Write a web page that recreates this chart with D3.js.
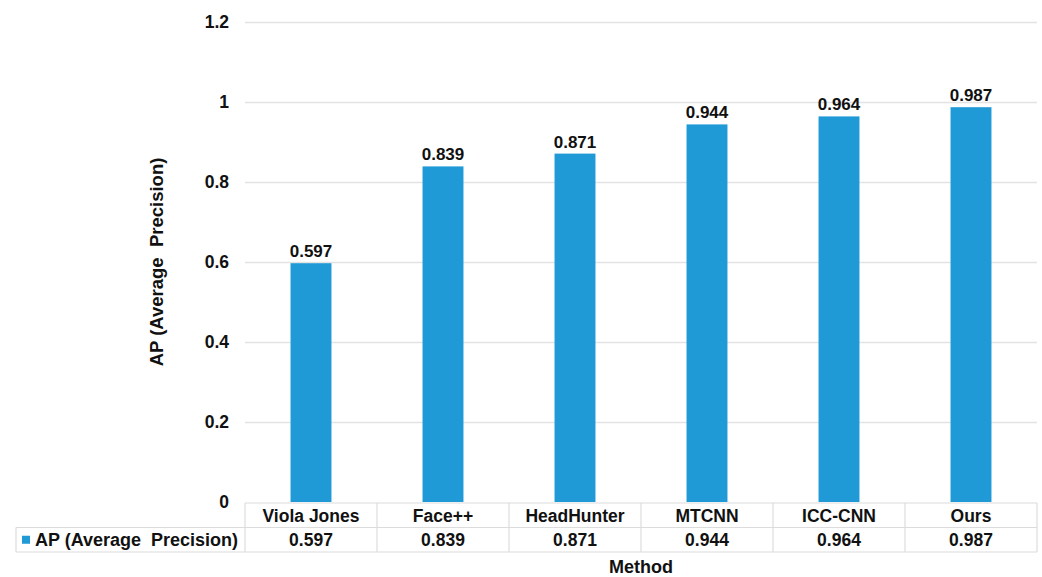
<!DOCTYPE html>
<html>
<head>
<meta charset="utf-8">
<script src="https://cdn.jsdelivr.net/npm/d3@7"></script>
<style>
  body { margin: 0; background: #fff; }
  svg text { font-family: "Liberation Sans", Arial, sans-serif; font-weight: bold; fill: #111; }
</style>
</head>
<body>
<svg id="chart" width="1042" height="577"></svg>
<script>
const methods = ["Viola Jones", "Face++", "HeadHunter", "MTCNN", "ICC-CNN", "Ours"];
const apValues = [0.597, 0.839, 0.871, 0.944, 0.964, 0.987];
const yTicks = [0, 0.2, 0.4, 0.6, 0.8, 1, 1.2];
const seriesName = "AP (Average  Precision)";

const svg = d3.select("#chart");
const margin = { top: 22, left: 245, right: 5, bottom: 75 };
const width = 1042 - margin.left - margin.right;
const height = 577 - margin.top - margin.bottom;
const barColor = "#1f9ad6";
const gridColor = "#e3e3e3";

const g = svg.append("g").attr("transform", `translate(${margin.left},${margin.top})`);

const x = d3.scaleBand().domain(methods).range([0, width]).paddingInner(0).paddingOuter(0);
const y = d3.scaleLinear().domain([0, 1.2]).range([height, 0]);

// gridlines + tick labels
const yAxis = g.append("g")
    .call(d3.axisLeft(y).tickValues(yTicks).tickSize(-width).tickPadding(16)
        .tickFormat(d => d3.format("~g")(d)));
yAxis.select(".domain").remove();
yAxis.selectAll(".tick line").attr("stroke", gridColor).attr("stroke-width", 1.3);
yAxis.selectAll(".tick text").style("font-size", "17.5px").attr("fill", "#111");
yAxis.selectAll(".tick").filter(d => d === 0).select("line").remove();

// bars
const barW = x.bandwidth() * 0.31;
g.selectAll(".bar")
    .data(methods)
    .enter().append("rect")
    .attr("class", "bar")
    .attr("x", d => x(d) + (x.bandwidth() - barW) / 2)
    .attr("y", (d, i) => y(apValues[i]))
    .attr("width", barW)
    .attr("height", (d, i) => height - y(apValues[i]))
    .attr("fill", barColor);

// value labels
g.selectAll(".val")
    .data(methods)
    .enter().append("text")
    .attr("x", d => x(d) + x.bandwidth() / 2)
    .attr("y", (d, i) => y(apValues[i]) - 6)
    .attr("text-anchor", "middle")
    .style("font-size", "17px")
    .text((d, i) => apValues[i].toFixed(3));

// data table
const rowH = 24.5;
const tableTop = height + 1;
const tableLeft = 16 - margin.left;
const tbl = g.append("g").attr("stroke", "#dcdcdc").attr("stroke-width", 1.2);
tbl.append("line").attr("x1", 0).attr("x2", width).attr("y1", tableTop).attr("y2", tableTop);
tbl.append("line").attr("x1", tableLeft).attr("x2", width).attr("y1", tableTop + rowH).attr("y2", tableTop + rowH);
tbl.append("line").attr("x1", tableLeft).attr("x2", width).attr("y1", tableTop + 2 * rowH).attr("y2", tableTop + 2 * rowH);
tbl.append("line").attr("x1", tableLeft).attr("x2", tableLeft).attr("y1", tableTop + rowH).attr("y2", tableTop + 2 * rowH);
tbl.selectAll(".vl")
    .data(methods.concat(["end"]))
    .enter().append("line")
    .attr("x1", (d, i) => i * x.bandwidth())
    .attr("x2", (d, i) => i * x.bandwidth())
    .attr("y1", tableTop)
    .attr("y2", tableTop + 2 * rowH);

g.selectAll(".cat")
    .data(methods)
    .enter().append("text")
    .attr("x", d => x(d) + x.bandwidth() / 2)
    .attr("y", tableTop + rowH / 2 + 1)
    .attr("dy", "0.35em")
    .attr("text-anchor", "middle")
    .style("font-size", "17.5px")
    .text(d => d);

g.selectAll(".cell")
    .data(methods)
    .enter().append("text")
    .attr("x", d => x(d) + x.bandwidth() / 2)
    .attr("y", tableTop + rowH * 1.5)
    .attr("dy", "0.35em")
    .attr("text-anchor", "middle")
    .style("font-size", "17.5px")
    .text((d, i) => apValues[i].toFixed(3));

// legend key in table
g.append("rect")
    .attr("x", tableLeft + 6)
    .attr("y", tableTop + rowH * 1.5 - 4)
    .attr("width", 8)
    .attr("height", 8)
    .attr("fill", barColor);
g.append("text")
    .attr("x", tableLeft + 19)
    .attr("y", tableTop + rowH * 1.5)
    .attr("dy", "0.35em")
    .style("font-size", "18px")
    .style("white-space", "pre")
    .attr("xml:space", "preserve")
    .text(seriesName);

// axis titles
g.append("text")
    .attr("x", width / 2)
    .attr("y", height + 2 * rowH + 22)
    .attr("text-anchor", "middle")
    .style("font-size", "18px")
    .text("Method");

g.append("text")
    .attr("transform", "rotate(-90)")
    .attr("x", -y(0.6))
    .attr("y", 157 - margin.left)
    .attr("dy", "0.35em")
    .attr("text-anchor", "middle")
    .style("font-size", "18.5px")
    .style("white-space", "pre")
    .attr("xml:space", "preserve")
    .text(seriesName);
</script>
</body>
</html>
